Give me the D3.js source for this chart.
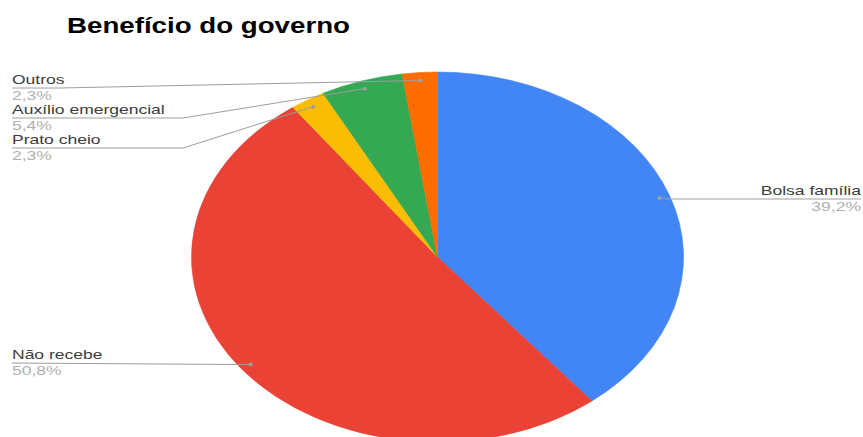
<!DOCTYPE html>
<html>
<head>
<meta charset="utf-8">
<script src="https://cdn.jsdelivr.net/npm/d3@7"></script>
<style>
  body { margin: 0; background: #fff; }
  text { font-family: "Liberation Sans", Arial, sans-serif; }
</style>
</head>
<body>
<svg id="chart" width="863" height="437"></svg>
<script>
// data
const categories = ["Bolsa família", "Não recebe", "Prato cheio", "Auxílio emergencial", "Outros"];
const values = [39.2, 50.8, 2.3, 5.4, 2.3];
const percentLabels = ["39,2%", "50,8%", "2,3%", "5,4%", "2,3%"];
const colors = ["#4285F4", "#EA4335", "#FBBC04", "#34A853", "#FF6D01"];

const width = 863, height = 437;
const cx = 437.5, cy = 257;
const radius = 185;
const sx = 1.33; // the picture is stretched horizontally
const textSx = 1.46;

// label layout (pixel positions of the label blocks)
const labelLayout = {
    "Bolsa família": { x: 861, y: 195, anchor: "end", bend: null },
    "Não recebe": { x: 12, y: 359, anchor: "start", bend: null },
    "Prato cheio": { x: 12, y: 144, anchor: "start", bend: 183 },
    "Auxílio emergencial": { x: 12, y: 114, anchor: "start", bend: 183 },
    "Outros": { x: 12, y: 84, anchor: "start", bend: 60 }
};

const svg = d3.select("#chart");

const data = categories.map((c, i) => ({ name: c, value: values[i], pct: percentLabels[i], color: colors[i] }));

const pie = d3.pie()
    .value(d => d.value)
    .sort(null);

const arc = d3.arc()
    .innerRadius(0)
    .outerRadius(radius);

const dotArc = d3.arc()
    .innerRadius(177)
    .outerRadius(177);

const arcs = pie(data);

const g = svg.append("g")
    .attr("transform", `translate(${cx},${cy}) scale(${sx},1)`);

g.selectAll("path")
    .data(arcs)
    .enter()
    .append("path")
    .attr("d", arc)
    .attr("fill", d => d.data.color)
    .attr("stroke", d => d.data.color)
    .attr("stroke-width", 0.5);

// title
svg.append("text")
    .attr("x", 67)
    .attr("y", 33)
    .attr("font-size", 22.3)
    .attr("font-weight", "bold")
    .attr("fill", "#000")
    .attr("textLength", 283)
    .attr("lengthAdjust", "spacingAndGlyphs")
    .text("Benefício do governo");

// leader lines, dots and labels
arcs.forEach(d => {
    const L = labelLayout[d.data.name];
    const c = dotArc.centroid(d);
    const px = cx + c[0] * sx, py = cy + c[1];
    const lineY = L.y + 4;

    let pts;
    if (L.anchor === "end") {
        pts = [[px, py], [L.x, lineY]];
        pts = [[px, py], [px + 8, lineY], [L.x, lineY]];
    } else if (L.bend === null) {
        pts = [[L.x, lineY], [px, py]];
    } else {
        pts = [[L.x, lineY], [L.bend, lineY], [px, py]];
    }

    svg.append("path")
        .attr("d", d3.line()(pts))
        .attr("fill", "none")
        .attr("stroke", "#9e9e9e")
        .attr("stroke-width", 1);

    svg.append("circle")
        .attr("cx", px)
        .attr("cy", py)
        .attr("r", 2)
        .attr("fill", "#9e9e9e");

    const t = svg.append("g")
        .attr("transform", `translate(${L.x},${L.y}) scale(${textSx},1)`);

    t.append("text")
        .attr("text-anchor", L.anchor)
        .attr("font-size", 12)
        .attr("fill", "#3c3c3c")
        .text(d.data.name);

    t.append("text")
        .attr("y", 16)
        .attr("text-anchor", L.anchor)
        .attr("font-size", 12)
        .attr("fill", "#b0b0b0")
        .text(d.data.pct);
});
</script>
</body>
</html>
